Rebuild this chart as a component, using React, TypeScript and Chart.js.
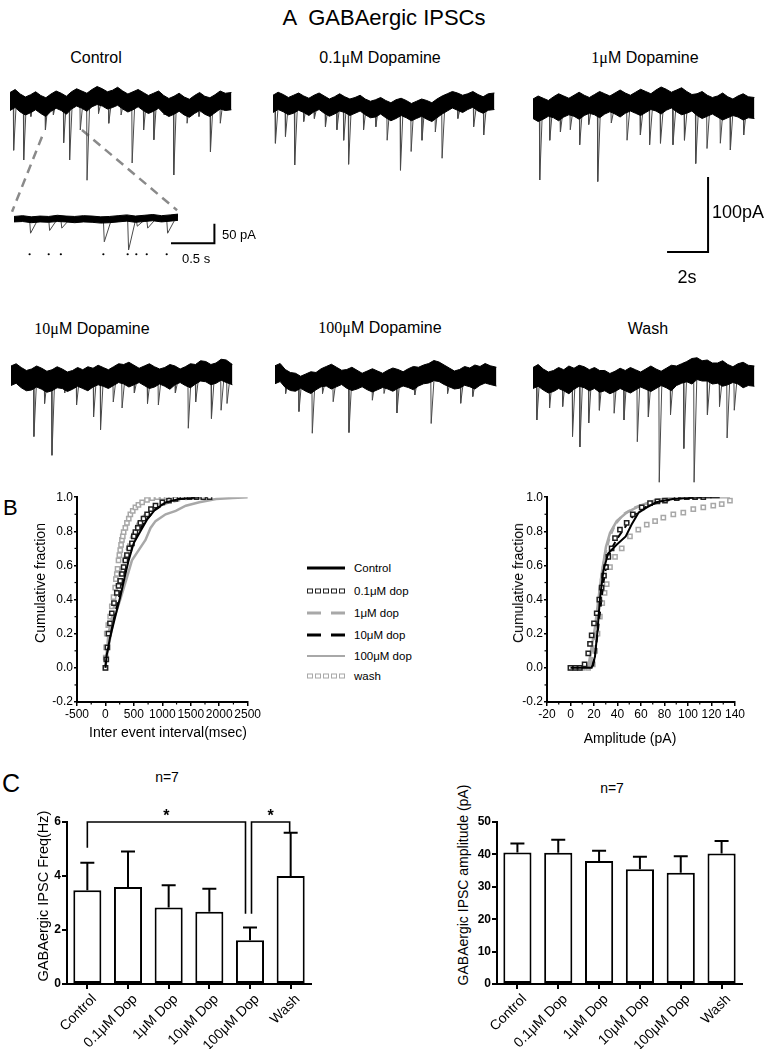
import React, { useEffect, useRef } from "react";
import { Chart, registerables } from "chart.js";
Chart.register(...registerables);

const SANS = "'Liberation Sans', Arial, Helvetica, sans-serif";
const SERIF = "'Liberation Serif', 'Times New Roman', serif";

// ---------------- Panel A: traces (time in s, current in pA relative to baseline) ----------------
const traceTimes = [0, 0.25, 0.5, 0.75, 1, 1.25, 1.5, 1.75, 2, 2.25, 2.5, 2.75, 3, 3.25, 3.5, 3.75, 4, 4.25, 4.5, 4.75, 5, 5.25, 5.5, 5.75, 6, 6.25, 6.5, 6.75, 7, 7.25, 7.5, 7.75, 8, 8.25, 8.5, 8.75, 9, 9.25, 9.5, 9.75, 10, 10.25, 10.5, 10.8];

const controlUpper = [10, 14, 8, 4, 7, 11, 6, 3, 8, 12, 9, 5, 11, 15, 12, 9, 14, 18, 15, 11, 13, 17, 12, 8, 11, 14, 10, 6, 9, 12, 6, 2, 5, 9, 4, 1, 6, 10, 5, 3, 7, 12, 9, 10];
const controlLower = [-14, -10, -16, -20, -17, -13, -18, -22, -15, -11, -14, -19, -12, -8, -11, -15, -9, -6, -8, -12, -10, -7, -12, -16, -13, -9, -14, -18, -15, -11, -18, -22, -19, -15, -20, -23, -18, -14, -19, -22, -17, -12, -14, -13];
const controlEvents = [[0.16, 67], [0.65, 80], [1.0, 22], [1.71, 40], [2.1, 20], [2.6, 57], [2.89, 80], [3.41, 40], [3.74, 107], [4.3, 18], [4.8, 31], [5.4, 20], [5.94, 84], [6.5, 40], [7.0, 53], [7.5, 20], [7.97, 100], [8.62, 31], [9.2, 22], [9.76, 69], [10.24, 31]];

const dop01Upper = [13, 17, 14, 10, 13, 16, 12, 9, 13, 16, 12, 8, 11, 15, 11, 8, 10, 13, 8, 5, 7, 10, 6, 3, 7, 9, 6, 2, 5, 8, 6, 3, 8, 12, 15, 18, 16, 13, 15, 18, 14, 11, 15, 16];
const dop01Lower = [-10, -6, -9, -13, -11, -7, -10, -14, -9, -6, -11, -15, -12, -8, -10, -14, -11, -8, -13, -17, -16, -12, -17, -21, -18, -14, -17, -21, -18, -15, -19, -22, -17, -12, -8, -4, -7, -10, -6, -3, -8, -11, -7, -6];
const dop01Events = [[0.1, 51], [0.59, 42], [1.04, 80], [1.48, 22], [2.0, 18], [2.54, 29], [3.1, 33], [3.43, 47], [3.67, 79], [4.4, 33], [5.0, 29], [5.55, 47], [6.2, 87], [6.72, 62], [7.25, 47], [7.9, 36], [8.23, 71], [9.0, 18], [9.77, 29], [10.26, 40]];

const dop1Upper = [12, 16, 13, 10, 15, 19, 16, 13, 17, 21, 17, 14, 18, 22, 19, 16, 20, 24, 20, 17, 21, 25, 22, 19, 24, 28, 25, 21, 24, 27, 22, 18, 19, 22, 17, 14, 16, 20, 15, 12, 16, 19, 15, 14];
const dop1Lower = [-14, -18, -15, -11, -13, -17, -12, -9, -11, -15, -10, -7, -9, -13, -8, -5, -8, -12, -7, -4, -7, -10, -6, -2, -4, -8, -3, 0, -5, -9, -7, -4, -10, -14, -11, -8, -12, -16, -13, -10, -12, -16, -13, -14];
const dop1Events = [[0.31, 96], [0.8, 43], [1.32, 32], [1.8, 29], [2.26, 49], [2.7, 22], [3.14, 98], [3.8, 20], [4.57, 43], [5.22, 36], [5.67, 49], [6.2, 47], [6.81, 49], [7.37, 43], [7.92, 74], [8.47, 54], [9.12, 47], [9.61, 56], [10.26, 36]];

const dop10Upper = [16, 19, 14, 10, 12, 16, 13, 9, 11, 15, 12, 8, 10, 14, 11, 15, 13, 17, 14, 11, 15, 19, 18, 21, 17, 13, 16, 19, 15, 12, 14, 18, 16, 12, 15, 19, 18, 23, 22, 18, 20, 25, 24, 18];
const dop10Lower = [-10, -7, -13, -17, -16, -12, -15, -19, -17, -13, -14, -18, -15, -11, -14, -17, -12, -9, -11, -14, -10, -6, -8, -12, -9, -6, -10, -14, -12, -8, -11, -15, -9, -6, -10, -13, -8, -4, -5, -9, -7, -3, -6, -9];
const dop10Events = [[1.1, 78], [1.62, 34], [1.98, 103], [2.6, 20], [3.18, 36], [4.01, 52], [4.35, 69], [4.97, 32], [5.4, 40], [6.0, 20], [6.64, 34], [7.17, 36], [8.0, 20], [8.63, 67], [8.99, 32], [9.76, 54], [10.23, 43], [10.52, 34]];

const dop100Upper = [19, 22, 14, 10, 9, 5, 8, 11, 10, 15, 18, 21, 17, 13, 14, 17, 13, 9, 12, 15, 12, 9, 13, 16, 14, 11, 15, 18, 17, 20, 22, 26, 24, 20, 16, 12, 14, 18, 16, 20, 18, 22, 19, 17];
const dop100Lower = [-5, -2, -10, -14, -15, -11, -15, -18, -13, -9, -8, -12, -9, -6, -11, -14, -12, -9, -13, -16, -13, -10, -12, -15, -11, -8, -10, -13, -8, -5, -4, -1, -2, -6, -9, -12, -11, -7, -9, -12, -7, -4, -6, -8];
const dop100Events = [[0.5, 18], [1.15, 42], [1.8, 71], [2.3, 18], [2.82, 29], [3.59, 70], [4.73, 27], [5.3, 18], [5.93, 44], [6.8, 20], [7.6, 58], [8.4, 18], [9.04, 31], [9.63, 22]];

const washUpper = [14, 18, 12, 8, 10, 14, 11, 16, 13, 17, 15, 11, 14, 10, 10, 6, 9, 13, 10, 14, 11, 8, 12, 16, 12, 9, 13, 17, 16, 19, 22, 26, 27, 23, 24, 20, 20, 23, 18, 15, 19, 21, 17, 16];
const washLower = [-14, -11, -16, -20, -18, -14, -17, -21, -15, -11, -13, -17, -14, -19, -17, -21, -18, -14, -17, -20, -16, -12, -15, -18, -14, -10, -13, -17, -10, -7, -5, -8, -2, -4, -4, -8, -7, -11, -9, -6, -8, -13, -10, -11];
const washEvents = [[0.17, 56], [0.79, 40], [1.43, 38], [1.91, 78], [2.27, 92], [2.7, 60], [3.22, 43], [3.94, 47], [4.42, 56], [5.07, 85], [5.61, 52], [6.14, 139], [6.69, 49], [7.34, 94], [7.84, 139], [8.49, 49], [9.08, 38], [9.45, 80], [9.8, 43]];

// expanded segment of the control trace
const insetTimes = [0, 0.1, 0.2, 0.3, 0.4, 0.5, 0.6, 0.7, 0.8, 0.9, 1.0, 1.1, 1.2, 1.3, 1.4, 1.5, 1.6, 1.7, 1.8, 1.89];
const insetUpper = [8, 10, 7, 9, 8, 11, 9, 8, 10, 9, 7, 8, 10, 12, 9, 11, 13, 10, 12, 14];
const insetLower = [-6, -5, -8, -6, -7, -5, -6, -8, -6, -7, -9, -8, -6, -4, -7, -5, -3, -6, -4, -2];
const insetEvents = [[0.18, 35], [0.4, 28], [0.54, 22], [1.03, 57], [1.31, 78], [1.41, 17], [1.53, 22], [1.76, 35]];

// zoom connectors on the control trace: [main-trace point, inset end point] (s, pA)
const connectorA = [[1.56, -49], [0.1, -149]];
const connectorB = [[3.51, -40], [8.15, -147]];

const scaleBarSeconds = 2;
const scaleBarPA = 100;
const insetScaleSeconds = 0.5;
const insetScalePA = 50;

// ---------------- Panel B: cumulative distributions ----------------
const seriesNames = ["Control", "0.1μM dop", "1μM dop", "10μM dop", "100μM dop", "wash"];

const ieiControlX = [0, 20, 83, 172, 260, 337, 408, 496, 615, 733, 880, 1058, 1295, 1650];
const ieiControlY = [0, 0.07, 0.18, 0.3, 0.415, 0.53, 0.63, 0.73, 0.8, 0.87, 0.93, 0.97, 0.99, 1.0];
const iei01X = [0, 15, 35, 53, 80, 112, 150, 200, 230, 260, 290, 320, 350, 378, 420, 466, 500, 527, 570, 615, 670, 733, 800, 880, 1000, 1117, 1230, 1353, 1480, 1600, 1720, 1830];
const iei01Y = [0, 0.05, 0.12, 0.2, 0.26, 0.32, 0.38, 0.44, 0.48, 0.51, 0.55, 0.59, 0.63, 0.66, 0.7, 0.73, 0.77, 0.795, 0.82, 0.85, 0.875, 0.9, 0.93, 0.95, 0.97, 0.98, 0.99, 1.0, 1.0, 1.0, 1.0, 1.0];
const iei1X = [0, 20, 53, 142, 200, 260, 337, 408, 496, 585, 704, 880, 1117, 1413, 1710];
const iei1Y = [0, 0.08, 0.2, 0.34, 0.46, 0.56, 0.65, 0.73, 0.8, 0.86, 0.9, 0.94, 0.97, 0.99, 1.0];
const iei10X = [0, 20, 71, 160, 243, 320, 390, 466, 573, 704, 852, 1029, 1265, 1530, 1830];
const iei10Y = [0, 0.07, 0.19, 0.31, 0.42, 0.53, 0.63, 0.72, 0.8, 0.86, 0.92, 0.96, 0.99, 1.0, 1.0];
const iei100X = [0, 20, 53, 142, 260, 378, 466, 585, 704, 793, 880, 1058, 1236, 1413, 1650, 1945, 2240, 2535];
const iei100Y = [0, 0.06, 0.12, 0.28, 0.4, 0.53, 0.63, 0.69, 0.75, 0.82, 0.86, 0.9, 0.92, 0.95, 0.97, 0.99, 0.995, 1.0];
const ieiWashX = [0, 5, 12, 23, 50, 83, 112, 142, 172, 183, 200, 213, 230, 245, 260, 275, 290, 305, 320, 350, 378, 410, 438, 480, 527, 580, 645, 730, 822, 910, 1000, 1080];
const ieiWashY = [0, 0.06, 0.12, 0.2, 0.25, 0.3, 0.36, 0.415, 0.47, 0.52, 0.55, 0.58, 0.63, 0.66, 0.69, 0.72, 0.75, 0.77, 0.795, 0.82, 0.85, 0.875, 0.9, 0.92, 0.94, 0.955, 0.97, 0.985, 0.995, 1.0, 1.0, 1.0];

const ampControlX = [0, 18, 20.8, 23, 25, 28, 32, 39, 47, 52, 58, 65, 73, 87, 110, 127];
const ampControlY = [0, 0, 0.065, 0.22, 0.4, 0.57, 0.67, 0.72, 0.77, 0.84, 0.91, 0.94, 0.97, 0.99, 1.0, 1.0];
const amp01X = [0, 4, 8, 12, 15.1, 16.6, 18, 20, 22.3, 24.5, 26.5, 28.5, 30.2, 32.2, 35, 37.9, 42.1, 47.8, 53, 60.6, 67.7, 74, 80.4, 90.4, 99, 106, 113];
const amp01Y = [0, 0, 0, 0.02, 0.085, 0.14, 0.19, 0.26, 0.32, 0.4, 0.47, 0.54, 0.59, 0.65, 0.7, 0.76, 0.81, 0.85, 0.9, 0.94, 0.965, 0.975, 0.98, 0.995, 1.0, 1.0, 1.0];
const amp1X = [0, 17, 19, 21, 23.5, 26, 29, 33, 38, 45, 55, 68, 85, 105];
const amp1Y = [0, 0, 0.1, 0.22, 0.38, 0.52, 0.65, 0.76, 0.84, 0.9, 0.94, 0.97, 0.99, 1.0];
const amp10X = [0, 19, 21, 23, 25.5, 28, 31, 35, 40, 46, 52, 60, 70, 85, 100, 120];
const amp10Y = [0, 0, 0.08, 0.2, 0.35, 0.5, 0.62, 0.7, 0.76, 0.82, 0.88, 0.93, 0.96, 0.985, 1.0, 1.0];
const amp100X = [0, 15, 16.6, 20.9, 23.7, 26.5, 30.2, 33.6, 39.3, 47.8, 59.1, 73.4, 90.4, 110, 135.7];
const amp100Y = [0, 0, 0.065, 0.24, 0.4, 0.55, 0.71, 0.79, 0.86, 0.91, 0.95, 0.985, 1.0, 1.0, 1.0];
const ampWashX = [0, 5, 10, 15, 19, 21, 23, 25, 27, 29, 30.8, 33.6, 37.9, 43.6, 50.6, 57.7, 64.9, 72, 79, 87.5, 96, 104.5, 113, 121.5, 128.7, 135.7];
const ampWashY = [0, 0, 0, 0, 0.02, 0.1, 0.2, 0.3, 0.38, 0.44, 0.49, 0.59, 0.65, 0.7, 0.77, 0.81, 0.84, 0.86, 0.88, 0.9, 0.91, 0.93, 0.94, 0.95, 0.96, 0.98];

const ieiMinorTicks = [-250, 250, 750, 1250, 1750, 2250];
const ampMinorTicks = [-10, 10, 30, 50, 70, 90, 110, 130];
const fractionMinorTicks = [-0.1, 0.1, 0.3, 0.5, 0.7, 0.9];

// ---------------- Panel C: summary bars ----------------
const conditions = ["Control", "0.1μM Dop", "1μM Dop", "10μM Dop", "100μM Dop", "Wash"];
const freqMean = [3.47, 3.59, 2.83, 2.68, 1.62, 4.0];
const freqSem = [1.02, 1.32, 0.83, 0.85, 0.47, 1.6];
const ampMean = [40.6, 40.5, 38.0, 35.4, 34.3, 40.3];
const ampSem = [2.8, 4.0, 3.1, 3.9, 5.1, 3.8];
// significance brackets: from / to category, top value, leg end values
const sigFrom = [0, 4];
const sigTo = [4, 5];
const sigTop = [6.0, 6.0];
const sigFromEnd = [5.05, 2.6];
const sigToEnd = [2.6, 5.6];
const sigLabels = ["*", "*"];

// ---------------- helpers ----------------
function ChartBox({ left, top, width, height, make }: any) {
  const ref = useRef<HTMLCanvasElement>(null);
  useEffect(() => {
    const chart = new Chart(ref.current as HTMLCanvasElement, make());
    return () => chart.destroy();
  }, []);
  return (
    <canvas
      ref={ref}
      width={width}
      height={height}
      style={{ position: "absolute", left, top, width, height }}
    />
  );
}

function Txt({ x, y, size = 14, children, rotate = 0, anchor = "center", family = SANS, weight = 400 }: any) {
  const tx = anchor === "center" ? "-50%" : anchor === "left" ? "0%" : "-100%";
  return (
    <div
      style={{
        position: "absolute",
        left: x,
        top: y,
        transform: `translate(${tx},-50%) rotate(${rotate}deg)`,
        fontFamily: family,
        fontSize: size,
        fontWeight: weight,
        whiteSpace: "pre",
        lineHeight: 1,
        color: "#000",
      }}
    >
      {children}
    </div>
  );
}

const baseOpts = {
  animation: false,
  responsive: false,
  events: [],
  plugins: { legend: { display: false }, tooltip: { enabled: false } },
};

function traceDatasets(times: number[], up: number[], lo: number[], events: number[][], decay: number) {
  const spikes: any[] = [];
  events.forEach(([t, a]) => {
    spikes.push({ x: t, y: 0 }, { x: t + decay * 0.12, y: -a }, { x: t + decay, y: -2 }, { x: t + decay, y: null });
  });
  return [
    { data: times.map((t, i) => ({ x: t, y: up[i] })), borderColor: "#000", borderWidth: 1, pointRadius: 0, fill: false },
    { data: times.map((t, i) => ({ x: t, y: lo[i] })), borderColor: "#000", borderWidth: 1, pointRadius: 0, fill: "-1", backgroundColor: "#000" },
    { data: spikes, borderColor: "#4a4a4a", borderWidth: 1, pointRadius: 0, fill: false, spanGaps: false },
  ];
}

function traceConfig(datasets: any[], xMax: number, yMin: number, yMax: number) {
  return () => ({
    type: "line",
    data: { datasets },
    options: {
      ...baseOpts,
      layout: { padding: 0 },
      elements: { line: { tension: 0 } },
      scales: {
        x: { type: "linear", min: 0, max: xMax, display: false },
        y: { type: "linear", min: yMin, max: yMax, display: false },
      },
    },
  });
}

const PX_S = 20.5;
const PX_PA = 0.75;
const T_MAX = 222 / PX_S;
const Y_TOP = 36;
const Y_BOT = -156;

function TraceChart({ x0, base, upper, lower, events, extra = [], yBot = Y_BOT }: any) {
  const height = Math.round((Y_TOP - yBot) * PX_PA);
  const ds = [...traceDatasets(traceTimes, upper, lower, events, 0.15), ...extra];
  return <ChartBox left={x0} top={base - Y_TOP * PX_PA} width={222} height={height} make={traceConfig(ds, T_MAX, yBot, Y_TOP)} />;
}

const lineDs = (pts: number[][], color: string, width: number, dash: number[] = []) => ({
  data: pts.map(([x, y]) => ({ x, y })),
  borderColor: color,
  borderWidth: width,
  borderDash: dash,
  pointRadius: 0,
  fill: false,
});

// ---------------- Panel B chart ----------------
const cdfStyles: any[] = [
  { borderColor: "#000", borderWidth: 2, pointRadius: 0 },
  { showLine: false, pointStyle: "rect", pointRadius: 3, borderColor: "#222", backgroundColor: "#fff", pointBorderWidth: 1.5 },
  { borderColor: "#a8a8a8", borderWidth: 2.5, borderDash: [7, 5], pointRadius: 0 },
  { borderColor: "#000", borderWidth: 2, borderDash: [7, 5], pointRadius: 0 },
  { borderColor: "#a8a8a8", borderWidth: 2.5, pointRadius: 0 },
  { showLine: false, pointStyle: "rect", pointRadius: 3, borderColor: "#a8a8a8", backgroundColor: "#fff", pointBorderWidth: 1.5 },
];

function minorTicksPlugin(xMinor: number[], yMinor: number[]) {
  return {
    id: "minorTicks",
    afterDraw(chart: any) {
      const { ctx, scales, chartArea } = chart;
      ctx.save();
      ctx.strokeStyle = "#000";
      ctx.lineWidth = 1.2;
      xMinor.forEach((v) => {
        const px = scales.x.getPixelForValue(v);
        ctx.beginPath();
        ctx.moveTo(px, chartArea.bottom);
        ctx.lineTo(px, chartArea.bottom + 2.5);
        ctx.stroke();
      });
      yMinor.forEach((v) => {
        const py = scales.y.getPixelForValue(v);
        ctx.beginPath();
        ctx.moveTo(chartArea.left, py);
        ctx.lineTo(chartArea.left - 2.5, py);
        ctx.stroke();
      });
      ctx.restore();
    },
  };
}

const axisCommon = {
  border: { display: true, width: 2, color: "#000" },
  grid: { display: true, drawOnChartArea: false, drawTicks: true, tickLength: 4, color: "#000", lineWidth: 1.5 },
};

function fmtFraction(v: any) {
  const n = Number(v);
  return Math.abs(n) < 1e-9 ? "0.0" : n.toFixed(1);
}

function cdfConfig(xs: number[][], ys: number[][], xMin: number, xMax: number, xStep: number, xMinor: number[]) {
  return () => ({
    type: "line",
    data: {
      datasets: xs.map((xArr, i) => ({
        label: seriesNames[i],
        data: xArr.map((x, j) => ({ x, y: ys[i][j] })),
        fill: false,
        tension: 0,
        ...cdfStyles[i],
      })),
    },
    options: {
      ...baseOpts,
      layout: { padding: { top: 8, right: 14, left: 0, bottom: 0 } },
      scales: {
        x: {
          type: "linear",
          min: xMin,
          max: xMax,
          ...axisCommon,
          ticks: { stepSize: xStep, color: "#000", font: { family: SANS, size: 12 }, padding: 1, maxRotation: 0, autoSkip: false, callback: (v: any) => String(v) },
          afterFit: (s: any) => { s.height = 26; },
        },
        y: {
          type: "linear",
          min: -0.2,
          max: 1.0,
          ...axisCommon,
          grid: { ...axisCommon.grid, tickLength: 3 },
          ticks: { stepSize: 0.2, color: "#000", font: { family: SANS, size: 12 }, padding: 1, callback: fmtFraction },
          afterFit: (s: any) => { s.width = 40; },
        },
      },
    },
    plugins: [minorTicksPlugin(xMinor, fractionMinorTicks)],
  });
}

// ---------------- Panel C chart ----------------
function errorBarPlugin(sem: number[]) {
  return {
    id: "errorBars",
    afterDatasetsDraw(chart: any) {
      const { ctx, scales } = chart;
      const meta = chart.getDatasetMeta(0);
      const vals = chart.data.datasets[0].data;
      ctx.save();
      ctx.strokeStyle = "#000";
      ctx.lineWidth = 2;
      meta.data.forEach((bar: any, i: number) => {
        const yTop = scales.y.getPixelForValue(vals[i]);
        const yErr = scales.y.getPixelForValue(vals[i] + sem[i]);
        ctx.beginPath();
        ctx.moveTo(bar.x, yTop);
        ctx.lineTo(bar.x, yErr);
        ctx.moveTo(bar.x - 7, yErr);
        ctx.lineTo(bar.x + 7, yErr);
        ctx.stroke();
      });
      ctx.restore();
    },
  };
}

const bracketPlugin = {
  id: "brackets",
  afterDraw(chart: any) {
    const { ctx, scales } = chart;
    const nudgeFrom = [0, 1.5];
    const nudgeTo = [-4.5, -1];
    ctx.save();
    ctx.strokeStyle = "#000";
    ctx.lineWidth = 1.6;
    sigFrom.forEach((f, i) => {
      const x1 = scales.x.getPixelForValue(f) + nudgeFrom[i];
      const x2 = scales.x.getPixelForValue(sigTo[i]) + nudgeTo[i];
      const yT = scales.y.getPixelForValue(sigTop[i]);
      ctx.beginPath();
      ctx.moveTo(x1, scales.y.getPixelForValue(sigFromEnd[i]));
      ctx.lineTo(x1, yT);
      ctx.lineTo(x2, yT);
      ctx.lineTo(x2, scales.y.getPixelForValue(sigToEnd[i]));
      ctx.stroke();
      ctx.fillStyle = "#000";
      ctx.font = `bold 16px ${SANS}`;
      ctx.textAlign = "center";
      ctx.textBaseline = "middle";
      ctx.fillText(sigLabels[i], (x1 + x2) / 2, yT - 5);
    });
    ctx.restore();
  },
};

function barConfig(mean: number[], sem: number[], yMax: number, yStep: number, withBrackets: boolean) {
  return () => ({
    type: "bar",
    data: {
      labels: conditions,
      datasets: [
        {
          data: mean,
          backgroundColor: "#fff",
          borderColor: "#000",
          borderWidth: 2,
          borderSkipped: false,
          barPercentage: 0.69,
          categoryPercentage: 1,
        },
      ],
    },
    options: {
      ...baseOpts,
      layout: { padding: { top: 22, right: 12, left: 0, bottom: 0 } },
      scales: {
        x: {
          border: { display: true, width: 2, color: "#000" },
          grid: { display: true, drawOnChartArea: false, drawTicks: true, tickLength: 5, color: "#000", lineWidth: 2, offset: false },
          ticks: { color: "#000", font: { family: SANS, size: 14 }, minRotation: 45, maxRotation: 45, autoSkip: false, padding: 2, labelOffset: 7 },
          afterFit: (s: any) => { s.height = 65; },
        },
        y: {
          min: 0,
          max: yMax,
          border: { display: true, width: 2, color: "#000" },
          grid: { display: true, drawOnChartArea: false, drawTicks: true, tickLength: 5, color: "#000", lineWidth: 2 },
          ticks: { stepSize: yStep, color: "#000", font: { family: SANS, size: 12, weight: "bold" }, padding: 1 },
          afterFit: (s: any) => { s.width = 30; },
        },
      },
    },
    plugins: withBrackets ? [errorBarPlugin(sem), bracketPlugin] : [errorBarPlugin(sem)],
  });
}

// ---------------- Legend sample ----------------
function LegendSample({ kind, color }: any) {
  const common: any = { position: "absolute", left: 0, top: "50%" };
  if (kind === "solid")
    return <div style={{ ...common, width: 38, borderTop: `${color === "#000" ? 3 : 2.5}px solid ${color}`, transform: "translateY(-50%)" }} />;
  if (kind === "dash")
    return (
      <>
        <div style={{ ...common, width: 14, borderTop: `3px solid ${color}`, transform: "translateY(-50%)" }} />
        <div style={{ ...common, left: 24, width: 14, borderTop: `3px solid ${color}`, transform: "translateY(-50%)" }} />
      </>
    );
  return (
    <>
      {[0, 1, 2, 3, 4].map((k) => (
        <div
          key={k}
          style={{ ...common, left: k * 8, width: 6, height: 5, boxSizing: "border-box", border: `1.5px solid ${color}`, transform: "translateY(-50%)" }}
        />
      ))}
    </>
  );
}

const legendKinds = [
  ["solid", "#000"],
  ["squares", "#222"],
  ["dash", "#a8a8a8"],
  ["dash", "#000"],
  ["solid", "#a8a8a8"],
  ["squares", "#a8a8a8"],
];
const legendY = [568, 590.5, 613, 635, 656, 676];

export default function App() {
  const mainScaleCorner = [8.54, -192];
  const insetScaleCorner = [2.31, -61];
  const insetDotLevel = -89;
  const INSET_PX_S = 90;
  const INSET_PX_PA = 0.4576;
  const insetYTop = 22;
  const insetYBot = -96;

  const connectors = [lineDs(connectorA, "#8a8a8a", 2.5, [9, 6]), lineDs(connectorB, "#8a8a8a", 2.5, [9, 6])];
  const mainScaleBar = lineDs(
    [
      [mainScaleCorner[0] - scaleBarSeconds, mainScaleCorner[1]],
      [mainScaleCorner[0], mainScaleCorner[1]],
      [mainScaleCorner[0], mainScaleCorner[1] + scaleBarPA],
    ],
    "#000",
    2
  );

  const insetDs = [
    ...traceDatasets(insetTimes, insetUpper, insetLower, insetEvents, 0.09),
    lineDs(
      [
        [insetScaleCorner[0] - insetScaleSeconds, insetScaleCorner[1]],
        [insetScaleCorner[0], insetScaleCorner[1]],
        [insetScaleCorner[0], insetScaleCorner[1] + insetScalePA],
      ],
      "#000",
      2
    ),
    {
      data: insetEvents.map(([t]) => ({ x: t, y: insetDotLevel })),
      showLine: false,
      pointRadius: 1.1,
      pointBackgroundColor: "#000",
      pointBorderColor: "#000",
      borderWidth: 0,
    },
  ];

  return (
    <div style={{ position: "absolute", left: 0, top: 0, width: 769, height: 1049, background: "#fff", fontFamily: SANS }}>
      <Txt x={384} y={18} size={22}>{"A  GABAergic IPSCs"}</Txt>

      {/* Panel A labels */}
      <Txt x={96} y={58} size={16}>Control</Txt>
      <Txt x={380} y={58} size={16}>
        0.1<span style={{ fontFamily: SERIF }}>μ</span>M Dopamine
      </Txt>
      <Txt x={645} y={58} size={16}>
        <span style={{ fontFamily: SERIF }}>1μ</span>M Dopamine
      </Txt>
      <Txt x={92} y={329} size={16}>
        <span style={{ fontFamily: SERIF }}>10μ</span>M Dopamine
      </Txt>
      <Txt x={380} y={328} size={16}>
        <span style={{ fontFamily: SERIF }}>100μ</span>M Dopamine
      </Txt>
      <Txt x={648} y={329} size={16}>Wash</Txt>

      {/* traces */}
      <TraceChart x0={10} base={100} upper={controlUpper} lower={controlLower} events={controlEvents} extra={connectors} />
      <TraceChart x0={273} base={105} upper={dop01Upper} lower={dop01Lower} events={dop01Events} />
      <TraceChart x0={533} base={108} upper={dop1Upper} lower={dop1Lower} events={dop1Events} extra={[mainScaleBar]} yBot={-204} />
      <TraceChart x0={11} base={378} upper={dop10Upper} lower={dop10Lower} events={dop10Events} />
      <TraceChart x0={275} base={380} upper={dop100Upper} lower={dop100Lower} events={dop100Events} />
      <TraceChart x0={533} base={378} upper={washUpper} lower={washLower} events={washEvents} />
      <ChartBox
        left={10}
        top={217 - insetYTop * INSET_PX_PA}
        width={222}
        height={Math.round((insetYTop - insetYBot) * INSET_PX_PA)}
        make={traceConfig(insetDs, 222 / INSET_PX_S, insetYBot, insetYTop)}
      />
      <Txt x={222} y={234} size={13} anchor="left">50 pA</Txt>
      <Txt x={182} y={258} size={13} anchor="left">0.5 s</Txt>
      <Txt x={712} y={212} size={18} anchor="left">100pA</Txt>
      <Txt x={687} y={277} size={18}>2s</Txt>

      {/* Panel B */}
      <Txt x={3} y={508} size={22} anchor="left">B</Txt>
      <ChartBox
        left={37}
        top={489}
        width={225}
        height={239}
        make={cdfConfig([ieiControlX, iei01X, iei1X, iei10X, iei100X, ieiWashX], [ieiControlY, iei01Y, iei1Y, iei10Y, iei100Y, ieiWashY], -500, 2500, 500, ieiMinorTicks)}
      />
      <ChartBox
        left={507}
        top={489}
        width={242}
        height={239}
        make={cdfConfig([ampControlX, amp01X, amp1X, amp10X, amp100X, ampWashX], [ampControlY, amp01Y, amp1Y, amp10Y, amp100Y, ampWashY], -20, 140, 20, ampMinorTicks)}
      />
      <Txt x={40} y={583} size={14} rotate={-90}>Cumulative fraction</Txt>
      <Txt x={518} y={583} size={14} rotate={-90}>Cumulative fraction</Txt>
      <Txt x={168} y={732} size={14}>Inter event interval(msec)</Txt>
      <Txt x={630} y={738} size={14}>Amplitude (pA)</Txt>

      {seriesNames.map((name, i) => (
        <div key={name} style={{ position: "absolute", left: 307, top: legendY[i] - 6, width: 120, height: 12 }}>
          <LegendSample kind={legendKinds[i][0]} color={legendKinds[i][1]} />
          <div style={{ position: "absolute", left: 47, top: 0, fontFamily: SANS, fontSize: 11.5, lineHeight: "12px", whiteSpace: "pre" }}>{name}</div>
        </div>
      ))}

      {/* Panel C */}
      <Txt x={2} y={783} size={25} anchor="left">C</Txt>
      <Txt x={167} y={777} size={14}>n=7</Txt>
      <Txt x={612} y={788} size={14}>n=7</Txt>
      <Txt x={43} y={896} size={14.5} rotate={-90}>GABAergic IPSC Freq(Hz)</Txt>
      <Txt x={463} y={885} size={14} rotate={-90}>GABAergic IPSC amplitude (pA)</Txt>
      <ChartBox left={37} top={800} width={286} height={249} make={barConfig(freqMean, freqSem, 6, 2, true)} />
      <ChartBox left={467} top={800} width={287} height={249} make={barConfig(ampMean, ampSem, 50, 10, false)} />
    </div>
  );
}
